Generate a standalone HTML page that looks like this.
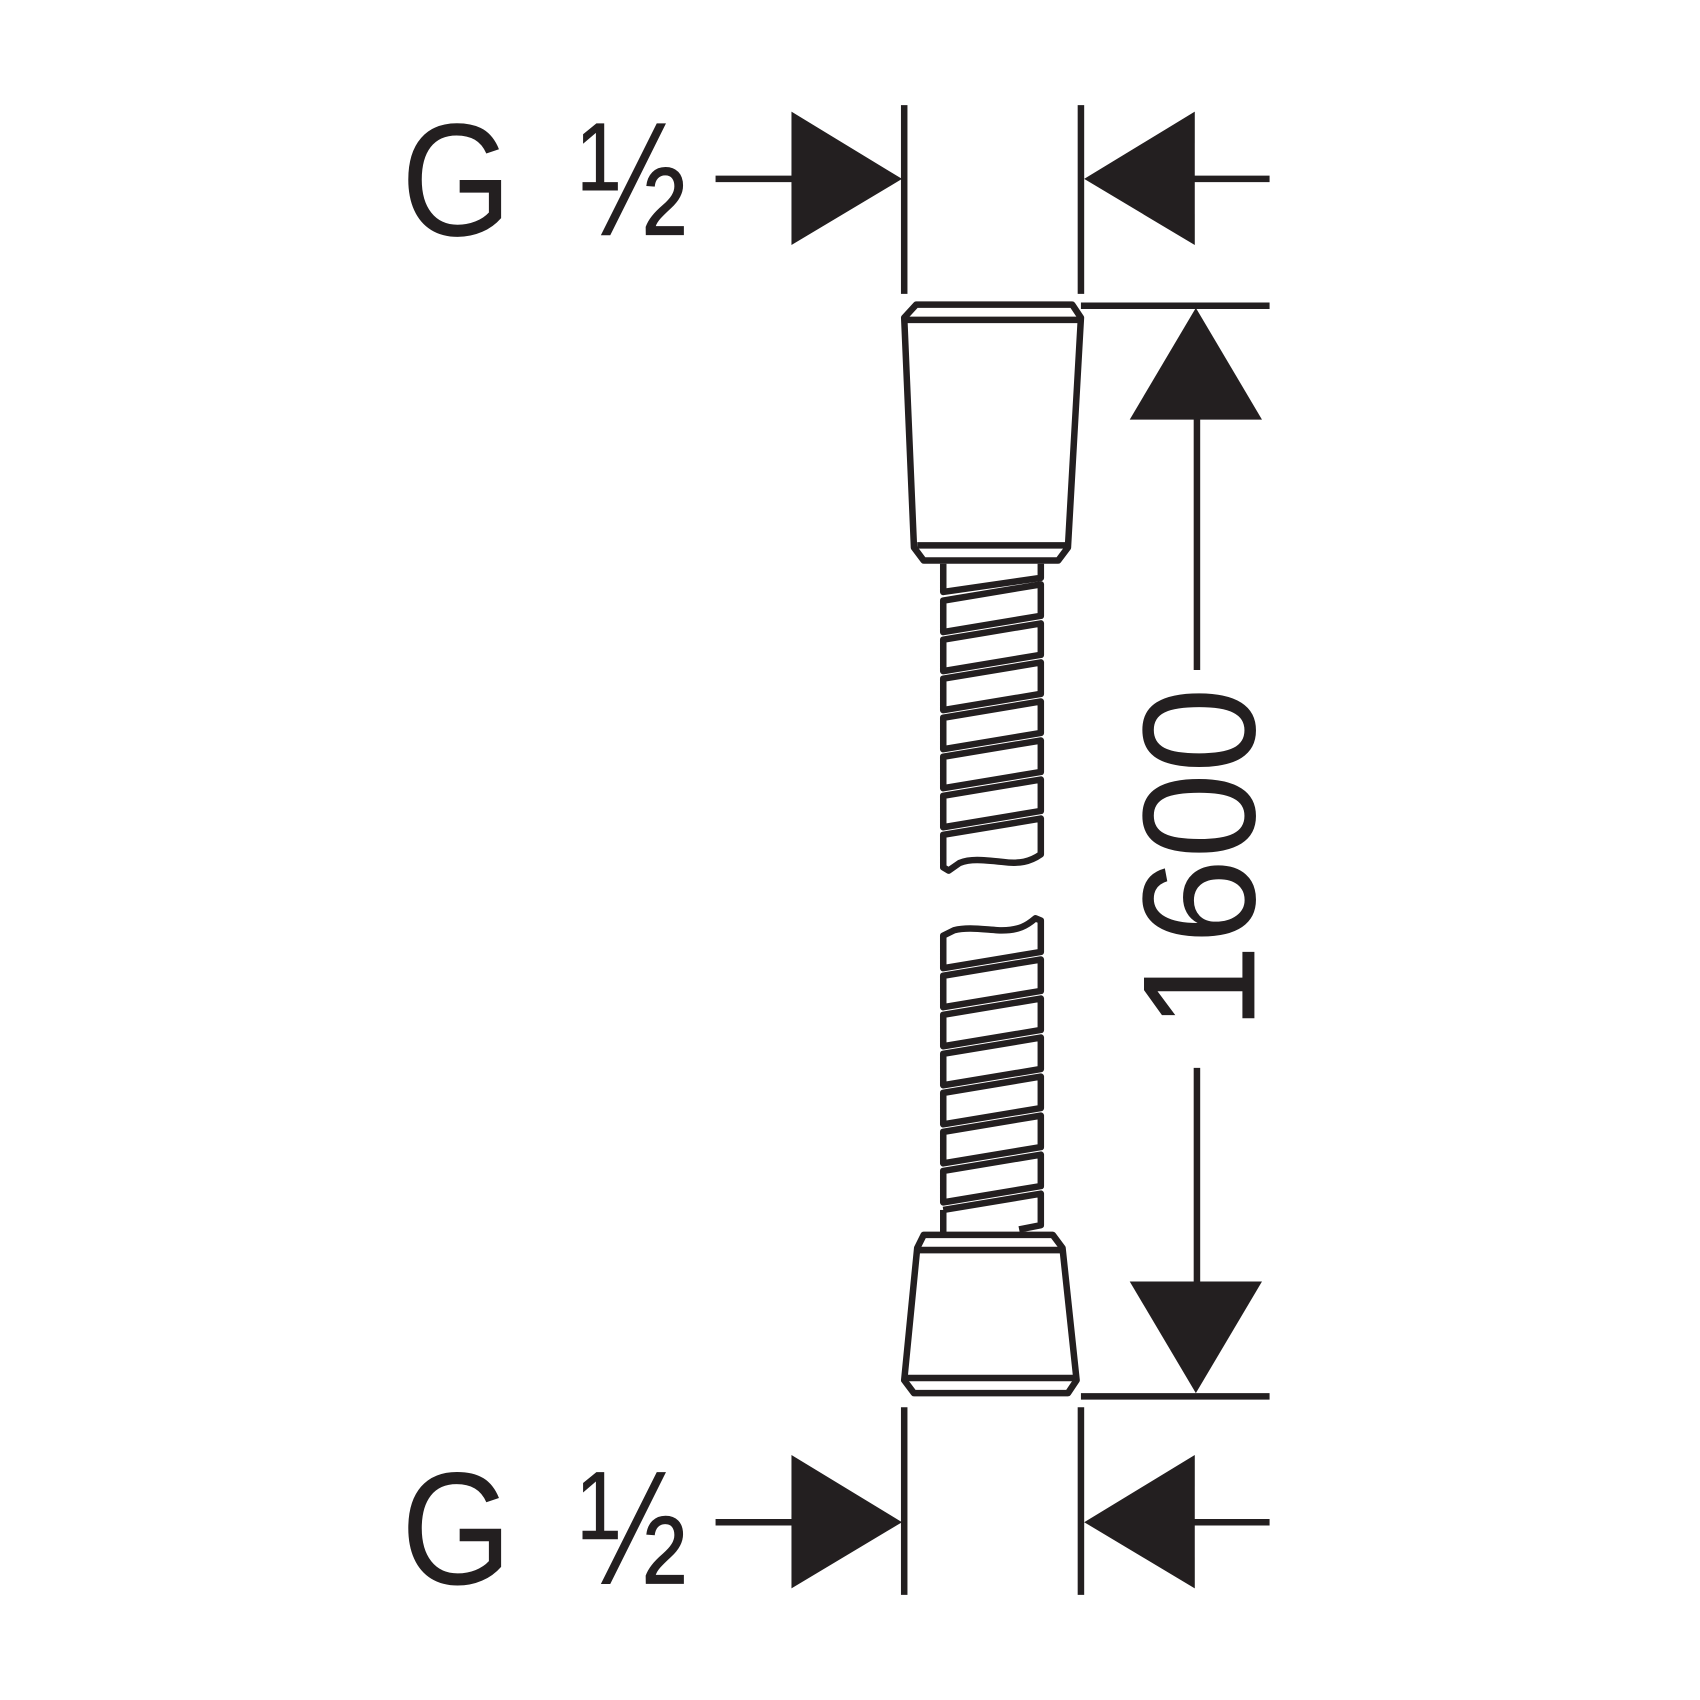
<!DOCTYPE html>
<html><head><style>html,body{margin:0;padding:0;background:#fff}svg{display:block}</style></head>
<body>
<svg width="1700" height="1700" viewBox="0 0 1568 1568" xmlns="http://www.w3.org/2000/svg">
<g stroke="#231f20" stroke-width="6" fill="none" stroke-linejoin="round">
 <line x1="660" y1="165" x2="732" y2="165"/>
 <line x1="834" y1="97" x2="834" y2="271"/>
 <line x1="997" y1="97" x2="997" y2="271"/>
 <line x1="1100" y1="165" x2="1171" y2="165"/>
 <line x1="660" y1="1404" x2="732" y2="1404"/>
 <line x1="834" y1="1298" x2="834" y2="1471"/>
 <line x1="997" y1="1298" x2="997" y2="1471"/>
 <line x1="1100" y1="1404" x2="1171" y2="1404"/>
 <line x1="997" y1="282" x2="1171" y2="282"/>
 <line x1="1104" y1="385" x2="1104" y2="618"/>
 <line x1="1104" y1="985" x2="1104" y2="1184"/>
 <line x1="997" y1="1288" x2="1171" y2="1288"/>
 <path d="M845,281 L989,281 L997,293 L985,505 L976,517 L852,517 L843,505 L834,293 Z"/>
 <line x1="836" y1="295" x2="996" y2="295"/>
 <line x1="846" y1="503" x2="983" y2="503"/>
 <path d="M852,1139 L971,1139 L980,1151 L993,1273 L985,1285 L843,1285 L834,1273 L846,1151 Z"/>
 <line x1="846" y1="1153" x2="980" y2="1153"/>
 <line x1="836" y1="1271" x2="993" y2="1271"/>
 <g stroke-width="6">
  <path d="M870,520 L870,546 L960,533 L960,520"/>
  <path d="M870,554 L960,539 L960,568 L870,583 Z"/>
  <path d="M870,590 L960,575 L960,604 L870,619 Z"/>
  <path d="M870,626 L960,611 L960,640 L870,655 Z"/>
  <path d="M870,662 L960,647 L960,676 L870,691 Z"/>
  <path d="M870,698 L960,683 L960,712 L870,727 Z"/>
  <path d="M870,734 L960,719 L960,748 L870,763 Z"/>
  <path d="M870,770 L960,755 L960,788 C950,795 940,797 925,795 C905,793 895,792 885,796 L875,803 L870,800 Z"/>
  <path d="M870,863 L880,858 C892,855 905,857 920,858 C940,859 948,853 955,847 L960,849 L960,878 L870,893 Z"/>
  <path d="M870,900 L960,885 L960,914 L870,929 Z"/>
  <path d="M870,936 L960,921 L960,950 L870,965 Z"/>
  <path d="M870,972 L960,957 L960,986 L870,1001 Z"/>
  <path d="M870,1008 L960,993 L960,1022 L870,1037 Z"/>
  <path d="M870,1044 L960,1029 L960,1058 L870,1073 Z"/>
  <path d="M870,1080 L960,1065 L960,1094 L870,1109 Z"/>
  <path d="M870,1116 L960,1101 L960,1130 L940,1134"/>
  <line x1="870" y1="1116" x2="870" y2="1137"/>
 </g>
</g>
<g fill="#231f20">
 <polygon points="730,103 730,226 832,165"/>
 <polygon points="1102,103 1102,226 1000,165"/>
 <polygon points="730,1342 730,1465 832,1404"/>
 <polygon points="1102,1342 1102,1465 1000,1404"/>
 <polygon points="1103,284 1042,387 1164,387"/>
 <polygon points="1042,1182 1164,1182 1103,1285"/>
</g>
<g fill="#231f20" font-family="'Liberation Sans', sans-serif">
 <text x="370" y="217" font-size="148" textLength="102" lengthAdjust="spacingAndGlyphs">G</text>
 <text x="534" y="217" font-size="150" textLength="100" lengthAdjust="spacingAndGlyphs">½</text>
 <text x="370" y="1461" font-size="148" textLength="102" lengthAdjust="spacingAndGlyphs">G</text>
 <text x="534" y="1461" font-size="150" textLength="100" lengthAdjust="spacingAndGlyphs">½</text>
 <text transform="translate(1157,792) rotate(-90)" x="0" y="0" text-anchor="middle" font-size="148" textLength="316" lengthAdjust="spacingAndGlyphs">1600</text>
</g>
</svg>
</body></html>
